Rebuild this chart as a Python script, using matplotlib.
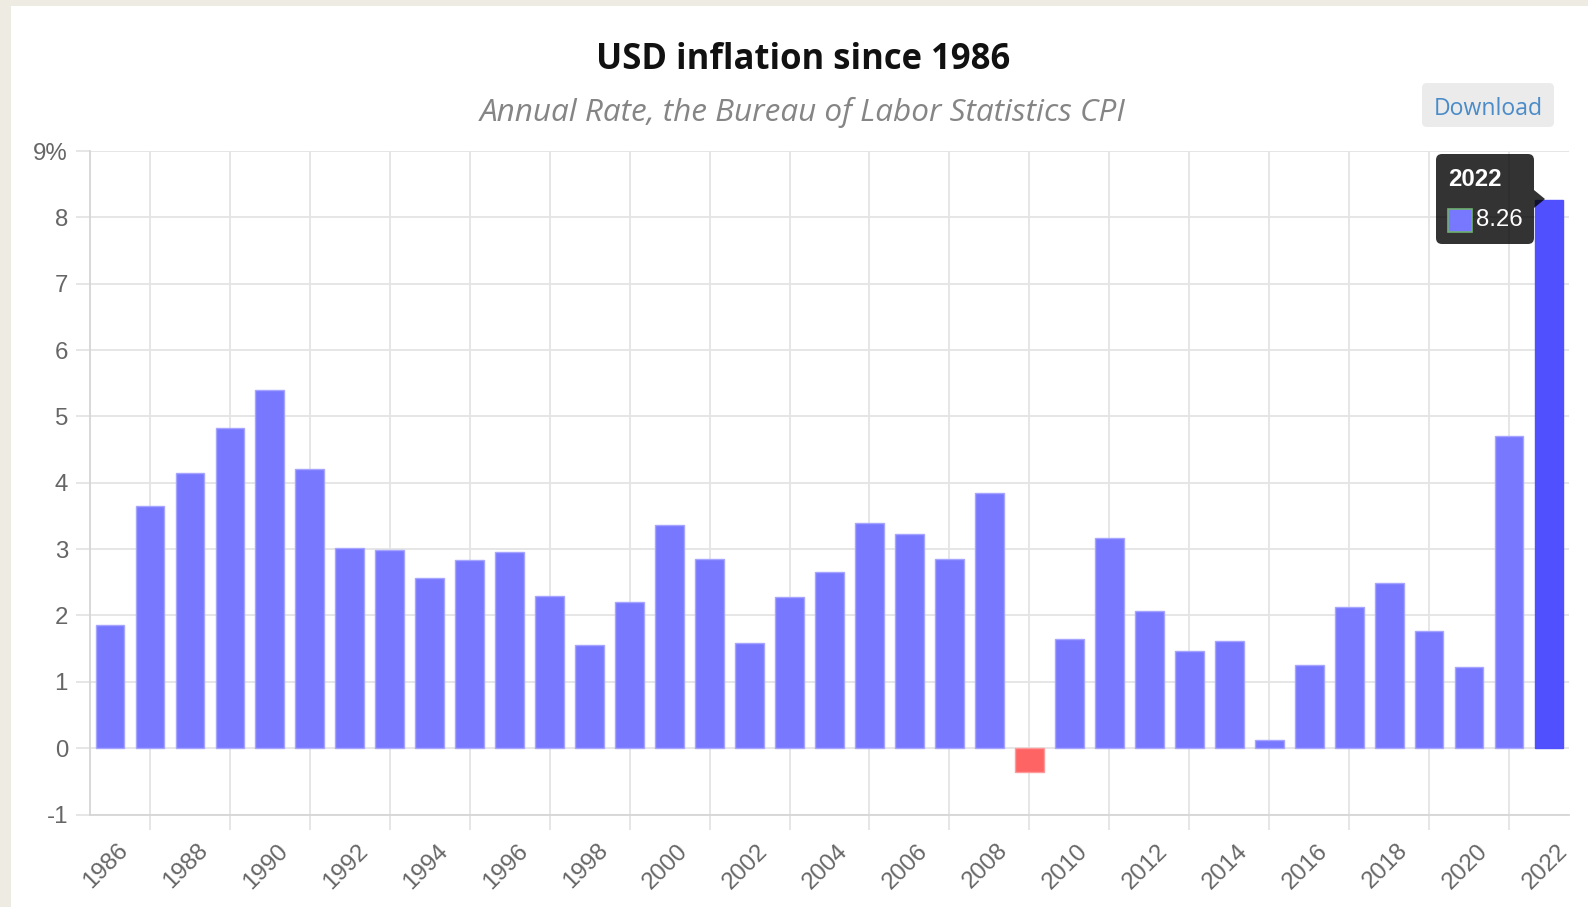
import matplotlib
matplotlib.use('Agg')
import matplotlib.pyplot as plt
from matplotlib.patches import FancyBboxPatch, Rectangle, Polygon
from matplotlib import transforms

# ---------------- data ----------------
years = list(range(1986, 2023))
rates = [1.86, 3.65, 4.14, 4.82, 5.40, 4.21, 3.01, 2.99, 2.56, 2.83,
         2.95, 2.29, 1.56, 2.21, 3.36, 2.85, 1.58, 2.28, 2.66, 3.39,
         3.23, 2.85, 3.84, -0.36, 1.64, 3.16, 2.07, 1.46, 1.62, 0.12,
         1.26, 2.13, 2.49, 1.76, 1.23, 4.70, 8.26]
y_ticks = [-1, 0, 1, 2, 3, 4, 5, 6, 7, 8, 9]
y_tick_labels = ['-1', '0', '1', '2', '3', '4', '5', '6', '7', '8', '9%']
title = 'USD inflation since 1986'
subtitle = 'Annual Rate, the Bureau of Labor Statistics CPI'
button_label = 'Download'
hover_index = len(years) - 1

# ---------------- style ----------------
W, H = 1588, 907
BG = '#EEEBE3'
BAR = '#7878FF'
BAR_EDGE = '#A5A5FF'
BAR_HOVER = '#5050FF'
BAR_NEG = '#FF6464'
BAR_NEG_EDGE = '#FF9A9A'
GRID = '#E4E4E4'
AXIS = '#D6D6D6'
TXT = '#666666'
PT = 72 / 100  # points per pixel

fig = plt.figure(figsize=(W / 100, H / 100), dpi=100, facecolor=BG)
ident = transforms.IdentityTransform()


def disp(px, py):
    return px, H - py


fig.add_artist(Rectangle(disp(11, H), W - 11, H - 6, transform=ident,
                         facecolor='white', edgecolor='none', zorder=-10))

ax_left, ax_right, ax_top, ax_bottom = 90, 1569, 151, 814.5
ax = fig.add_axes([ax_left / W, 1 - ax_bottom / H,
                   (ax_right - ax_left) / W, (ax_bottom - ax_top) / H])
ax.set_facecolor('none')

x = list(range(len(years)))
colors, edges = [], []
for i, v in enumerate(rates):
    if i == hover_index:
        colors.append(BAR_HOVER); edges.append(BAR_HOVER)
    elif v < 0:
        colors.append(BAR_NEG); edges.append(BAR_NEG_EDGE)
    else:
        colors.append(BAR); edges.append(BAR_EDGE)
ax.bar(x, rates, width=0.72, color=colors, edgecolor=edges, linewidth=1.0, zorder=3)

ax.set_xlim(-0.5, len(years) - 0.5)
ax.set_ylim(-1, 9)

ax.set_yticks(y_ticks, y_tick_labels)
ax.yaxis.grid(True, color=GRID, linewidth=1.3, zorder=0)
ax.tick_params(axis='y', length=14 * PT, color=GRID, width=1.3, pad=8 * PT,
               labelsize=24 * PT, labelcolor=TXT)
for lbl in ax.get_yticklabels():
    lbl.set_family('Liberation Sans')

ax.set_xticks([i for i in x if i % 2 == 1], minor=True)
ax.set_xticks([])
ax.xaxis.grid(True, which='minor', color=GRID, linewidth=1.3, zorder=0)
ax.tick_params(axis='x', which='minor', length=15 * PT, color=GRID, width=1.3)
ax.set_axisbelow(True)

for s in ['top', 'right']:
    ax.spines[s].set_visible(False)
for s in ['left', 'bottom']:
    ax.spines[s].set_color(AXIS)
    ax.spines[s].set_linewidth(1.3)

# rotated category labels (every other year)
lab_tr = transforms.blended_transform_factory(ax.transData, ax.transAxes) + \
    transforms.ScaledTranslation(15 / 100, -33 / 100, fig.dpi_scale_trans)
for i, yr in enumerate(years):
    if i % 2 == 0:
        ax.text(i, 0, str(yr), transform=lab_tr, rotation=45, ha='right', va='center',
                rotation_mode='anchor', fontsize=24 * PT, color=TXT,
                family='Liberation Sans', clip_on=False)

# titles
fig.text(803 / W, 1 - 60 / H, title, ha='center', va='center',
         fontsize=34.6 * PT, fontweight='bold', family='Open Sans', color='#111111')
fig.text(803 / W, 1 - 112 / H, subtitle, ha='center', va='center',
         fontsize=31.5 * PT, style='italic', family='Open Sans', color='#858585')

# download button
fig.add_artist(FancyBboxPatch(disp(1422, 127), 132, 44, transform=ident,
                              boxstyle='round,pad=0,rounding_size=5',
                              facecolor='#EBEBEB', edgecolor='none', zorder=5))
fig.text(1488 / W, 1 - 109 / H, button_label, ha='center', va='center',
         fontsize=23 * PT, family='Open Sans', color='#4A8BC8', zorder=6)

# tooltip for hovered bar
fig.add_artist(FancyBboxPatch(disp(1436, 244), 98, 90, transform=ident,
                              boxstyle='round,pad=0,rounding_size=6',
                              facecolor='black', alpha=0.8, edgecolor='none', zorder=10))
fig.add_artist(Polygon([disp(1534, 190), disp(1545, 199), disp(1534, 208)], closed=True,
                       transform=ident, facecolor='black', alpha=0.8,
                       edgecolor='none', zorder=10))
fig.text(1448 / W, 1 - 180 / H, str(years[hover_index]), ha='left', va='center',
         fontsize=24 * PT, fontweight='bold', family='Liberation Sans',
         color='white', zorder=11)
fig.add_artist(Rectangle(disp(1448, 232), 24, 23, transform=ident,
                         facecolor=BAR, edgecolor='#6FAF6F', linewidth=1.2, zorder=11))
fig.text(1476 / W, 1 - 220 / H, f'{rates[hover_index]:.2f}', ha='left', va='center',
         fontsize=24 * PT, family='Liberation Sans', color='white', zorder=11)

fig.savefig('out.png', dpi=100, facecolor=BG)
